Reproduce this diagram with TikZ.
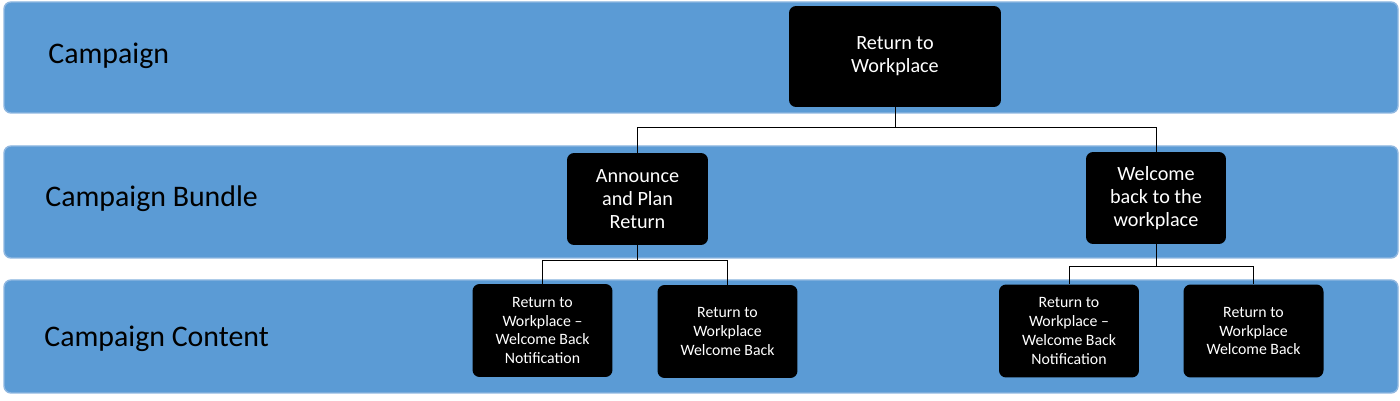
\documentclass[tikz,border=0pt]{standalone}
\usepackage{fontspec}
\setmainfont{Carlito}
\usetikzlibrary{calc}
\definecolor{bandblue}{HTML}{5B9BD5}
\definecolor{bandedge}{HTML}{8FB7E0}

\begin{document}
\begin{tikzpicture}[x=0.02cm, y=-0.02cm]
        % ================= 样式定义 =================
        \tikzset{
            band/.style={fill=bandblue, draw=bandedge, thick, rounded corners=4pt},
            bandlabel/.style={anchor=west, font=\fontsize{17}{20}\selectfont, inner sep=0pt},
            bigbox/.style={rectangle, fill=black, rounded corners=4pt, text=white, align=center, font=\fontsize{11.5}{13}\selectfont},
            smallbox/.style={rectangle, fill=black, rounded corners=4pt, text=white, align=center, font=\fontsize{9}{10.8}\selectfont, minimum width=2.8cm, minimum height=1.86cm},
            link/.style={draw=black, thin}
        }
        \useasboundingbox (0,0) rectangle (1400,401);

        % ================= 背景带 =================
        \draw[band] (4,2) rectangle (1398,113);
        \draw[band] (4,146) rectangle (1398,258);
        \draw[band] (4,280) rectangle (1398,393);

        \node[bandlabel] (lcamp) at (48,56) {Campaign};
        \node[bandlabel] (lbundle) at (45,199) {Campaign Bundle};
        \node[bandlabel] (lcontent) at (44,339) {Campaign Content};

        % ================= 节点 =================
        \node[bigbox, minimum width=4.24cm, minimum height=2.02cm] (camp) at (895,56.5) {Return to\\Workplace};
        \node[bigbox, minimum width=2.82cm, minimum height=1.84cm] (announce) at (637.5,199) {Announce\\and Plan\\Return};
        \node[bigbox, minimum width=2.8cm, minimum height=1.84cm] (welcome) at (1156,198) {Welcome\\back to the\\workplace};

        \node[smallbox] (c1) at (542.5,330.5) {Return to\\Workplace --\\Welcome Back\\Notification};
        \node[smallbox] (c2) at (727.5,331.5) {Return to\\Workplace\\Welcome Back};
        \node[smallbox] (c3) at (1069,331) {Return to\\Workplace --\\Welcome Back\\Notification};
        \node[smallbox] (c4) at (1253.5,331) {Return to\\Workplace\\Welcome Back};

        % ================= 连线 =================
        \draw[link] (camp.south) |- ($(announce.north)+(0,-25)$) -- (announce.north);
        \draw[link] (camp.south) |- ($(welcome.north)+(0,-24)$) -- (welcome.north);
        \draw[link] (announce.south) |- ($(c1.north)+(0,-23)$) -- (c1.north);
        \draw[link] (announce.south) |- ($(c2.north)+(0,-24)$) -- (c2.north);
        \draw[link] (welcome.south) |- ($(c3.north)+(0,-18)$) -- (c3.north);
        \draw[link] (welcome.south) |- ($(c4.north)+(0,-18)$) -- (c4.north);
\end{tikzpicture}
\end{document}
